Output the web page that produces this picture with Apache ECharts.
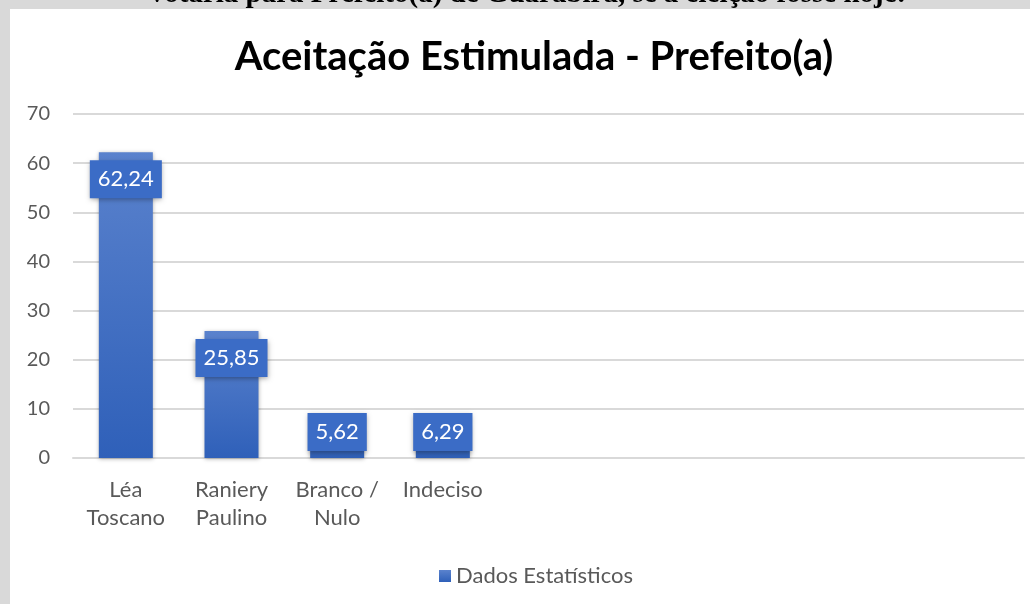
<!DOCTYPE html>
<html>
<head>
<meta charset="utf-8">
<script src="https://cdn.jsdelivr.net/npm/echarts@6/dist/echarts.min.js"></script>
<style>
  html, body { margin: 0; padding: 0; background: #d9d9d9; }
  #chart { width: 1030px; height: 604px; }
</style>
</head>
<body>
<div id="chart"></div>
<script>
const categories = ['Léa\nToscano', 'Raniery\nPaulino', 'Branco /\nNulo', 'Indeciso', '', '', '', '', ''];
const values = [62.24, 25.85, 5.62, 6.29, '-', '-', '-', '-', '-'];
const yTicks = { min: 0, max: 70, interval: 10 };
const seriesName = 'Dados Estatísticos';
const chartTitle = 'Aceitação Estimulada - Prefeito(a)';
const caption = 'votaria para Prefeito(a) de Guarabira, se a eleição fosse hoje:';

const font = 'Lato, "Noto Sans", sans-serif';

let chart = echarts.init(document.getElementById('chart'));

// small bars: the label box sits on the bar bottom, like Excel does
const barData = values.map(function (v) {
    if (typeof v !== 'number') return v;
    if (v < 10) {
        return { value: v, label: { position: 'insideBottom', distance: 7 } };
    }
    return v;
});

let option = {
    backgroundColor: '#d9d9d9',
    textStyle: { fontFamily: font },
    graphic: [
        {
            type: 'text',
            z: 1,
            style: {
                x: 528, y: 9,
                text: caption,
                font: 'bold 29px "Liberation Serif", serif',
                fill: '#000',
                align: 'center',
                verticalAlign: 'bottom'
            }
        },
        {
            type: 'rect',
            shape: { x: 10, y: 9, width: 1020, height: 595 },
            style: { fill: '#ffffff' },
            z: 2, silent: true
        }
    ],
    title: {
        text: chartTitle,
        left: 529,
        textAlign: 'center',
        top: 32,
        z: 10,
        textStyle: { fontSize: 40, fontWeight: 'bold', color: '#000', fontFamily: font }
    },
    legend: {
        left: 434,
        top: 560,
        itemWidth: 12,
        itemHeight: 12,
        z: 10,
        textStyle: { fontSize: 22, color: '#595959', fontFamily: font },
        data: [{ name: seriesName, icon: 'rect' }]
    },
    grid: { left: 73, right: 6, top: 114, bottom: 146, z: 10 },
    xAxis: {
        type: 'category',
        data: categories,
        z: 10,
        axisLine: { show: true, lineStyle: { color: '#d9d9d9', width: 2 } },
        axisTick: { show: false },
        axisLabel: {
            color: '#595959', fontSize: 22, lineHeight: 28, margin: 18,
            fontFamily: font, interval: 0
        }
    },
    yAxis: {
        type: 'value',
        min: yTicks.min, max: yTicks.max, interval: yTicks.interval,
        z: 10,
        axisLine: { show: false },
        axisTick: { show: false },
        axisLabel: { color: '#595959', fontSize: 20, margin: 23, fontFamily: font },
        splitLine: { lineStyle: { color: '#d9d9d9', width: 2 } }
    },
    series: [{
        name: seriesName,
        type: 'bar',
        data: barData,
        z: 10,
        barWidth: 54,
        itemStyle: {
            color: new echarts.graphic.LinearGradient(0, 0, 0, 1, [
                { offset: 0, color: '#5a82cd' },
                { offset: 1, color: '#2f60b9' }
            ]),
            shadowBlur: 4,
            shadowColor: 'rgba(0,0,0,0.3)',
            shadowOffsetY: 1
        },
        label: {
            show: true,
            position: 'insideTop',
            distance: 8,
            color: '#ffffff',
            fontSize: 22,
            fontFamily: font,
            padding: [8, 8, 8, 8],
            backgroundColor: '#3b6cc6',
            shadowBlur: 5,
            shadowColor: 'rgba(0,0,0,0.35)',
            shadowOffsetY: 2,
            formatter: function (p) {
                return p.value.toFixed(2).replace('.', ',');
            }
        }
    }]
};
chart.setOption(option);
</script>
</body>
</html>
